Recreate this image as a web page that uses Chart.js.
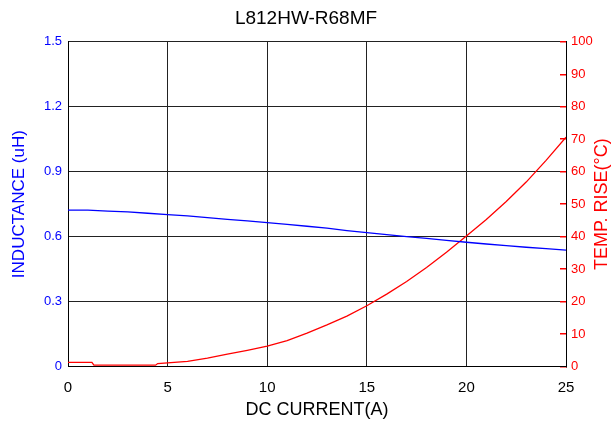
<!DOCTYPE html>
<html>
<head>
<meta charset="utf-8">
<script src="https://cdn.jsdelivr.net/npm/chart.js@4/dist/chart.umd.min.js"></script>
<style>
  html, body { margin: 0; padding: 0; background: #fff; }
  #wrap { width: 612px; height: 423px; position: relative; }
</style>
</head>
<body>
<div id="wrap"><canvas id="lineChart"></canvas></div>
<script>
const FONT = '"Liberation Sans", Arial, sans-serif';

// inductance curve (uH) vs DC current (A)
const currentA = [0, 1, 2, 3, 4, 5, 6, 7, 8, 9, 10, 11, 12, 13, 14, 15, 16, 17, 18, 19, 20, 21, 22, 23, 24, 25];
const inductance = [0.722, 0.722, 0.718, 0.714, 0.708, 0.702, 0.696, 0.688, 0.680, 0.673, 0.665, 0.657, 0.648, 0.639, 0.628,
  0.618, 0.609, 0.600, 0.592, 0.583, 0.574, 0.566, 0.558, 0.551, 0.545, 0.538];

// temperature rise (C) vs DC current (A)
const tempA = [0, 1.2, 1.3, 4.4, 4.5, 6, 7, 8, 9, 10, 11, 12, 13, 14, 15, 16, 17, 18, 19, 20, 21, 22, 23, 24, 25];
const tempRise = [1.3, 1.3, 0.4, 0.4, 0.9, 1.6, 2.6, 3.8, 5, 6.3, 8, 10.3, 12.8, 15.5, 18.7, 22.3, 26.2, 30.5, 35.2, 40.2,
  45.3, 50.8, 56.8, 63.5, 70.6];

const xTicks = [0, 5, 10, 15, 20, 25];
const leftTicks = [0, 0.3, 0.6, 0.9, 1.2, 1.5];
const rightTicks = [0, 10, 20, 30, 40, 50, 60, 70, 80, 90, 100];

const toPoints = (xs, ys) => xs.map((x, i) => ({ x: x, y: ys[i] }));
const setTicks = list => scale => { scale.ticks = list.map(v => ({ value: v })); };

const rightTitle = {
  id: 'rightTitle',
  afterDraw(chart) {
    const ctx = chart.ctx;
    const area = chart.chartArea;
    ctx.save();
    ctx.translate(chart.width - 9.5, (area.top + area.bottom) / 2);
    ctx.rotate(-Math.PI / 2);
    ctx.font = '18px ' + FONT;
    ctx.fillStyle = '#ff0000';
    ctx.textAlign = 'center';
    ctx.textBaseline = 'middle';
    ctx.fillText('TEMP. RISE(°C)', 0, 0);
    ctx.restore();
  }
};

const CHART_EL = document.getElementById('lineChart');
let lineChart = new Chart(CHART_EL, {
  type: 'line',
  data: {
    datasets: [{
      label: 'Inductance',
      data: toPoints(currentA, inductance),
      yAxisID: 'yL',
      borderColor: '#0000ff',
      borderWidth: 1.3,
      pointRadius: 0,
      tension: 0
    }, {
      label: 'Temp rise',
      data: toPoints(tempA, tempRise),
      yAxisID: 'yR',
      borderColor: '#ff0000',
      borderWidth: 1.3,
      pointRadius: 0,
      tension: 0
    }]
  },
  options: {
    responsive: true,
    maintainAspectRatio: false,
    animation: false,
    layout: { padding: 0 },
    plugins: {
      legend: { display: false },
      tooltip: { enabled: false },
      title: {
        display: true,
        text: 'L812HW-R68MF',
        color: '#000',
        font: { family: FONT, size: 19, weight: 'normal' },
        padding: { top: 7, bottom: 12 }
      }
    },
    scales: {
      x: {
        type: 'linear',
        min: 0,
        max: 25,
        afterBuildTicks: setTicks(xTicks),
        afterFit: s => { s.height = 56.5; },
        grid: { color: '#222', lineWidth: 1, drawTicks: false },
        border: { color: '#000' },
        ticks: { color: '#000', font: { family: FONT, size: 15 }, padding: 12 },
        title: {
          display: true,
          text: 'DC CURRENT(A)',
          color: '#000',
          font: { family: FONT, size: 18 },
          padding: { top: 2, bottom: 2 }
        }
      },
      yL: {
        position: 'left',
        min: 0,
        max: 1.5,
        afterBuildTicks: setTicks(leftTicks),
        afterFit: s => { s.width = 68; },
        grid: { color: '#222', lineWidth: 1, drawTicks: false },
        border: { color: '#000' },
        ticks: {
          color: '#0000ff',
          font: { family: FONT, size: 13 },
          padding: 6,
          callback: v => String(Number(v.toFixed(1)))
        },
        title: {
          display: true,
          text: 'INDUCTANCE (uH)',
          color: '#0000ff',
          font: { family: FONT, size: 17 },
          padding: { top: 9, bottom: 0 }
        }
      },
      yR: {
        position: 'right',
        min: 0,
        max: 100,
        afterBuildTicks: setTicks(rightTicks),
        afterFit: s => { s.width = 46; },
        grid: { drawOnChartArea: false, color: '#ff0000', tickLength: -6, lineWidth: 1.5 },
        border: { color: '#000' },
        ticks: { color: '#ff0000', font: { family: FONT, size: 13 }, padding: 11 }
      }
    }
  },
  plugins: [rightTitle]
});
</script>
</body>
</html>
